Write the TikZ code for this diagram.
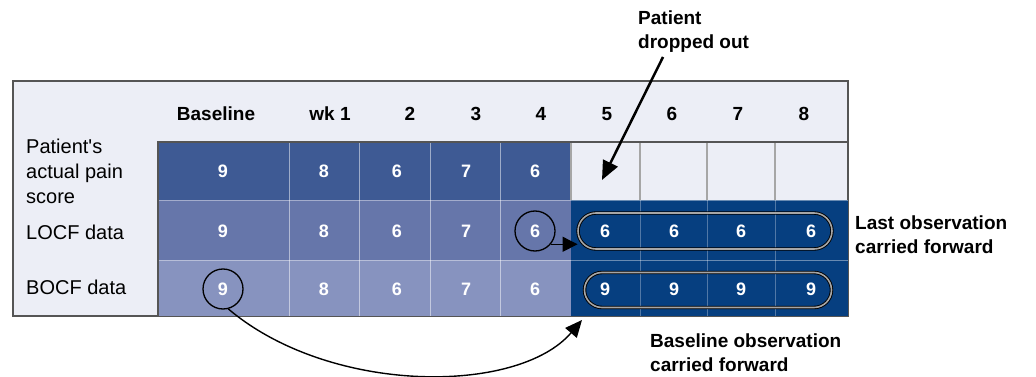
\documentclass[tikz,border=0pt]{standalone}
\usepackage{fontspec}
\setmainfont{Liberation Sans}
\newfontfamily\plainfont{Liberation Sans}
\usetikzlibrary{shapes,arrows.meta}

\definecolor{panel}{HTML}{ECEEF6}
\definecolor{edge}{HTML}{555555}
\definecolor{rowone}{HTML}{3E5A94}
\definecolor{rowtwo}{HTML}{6676AA}
\definecolor{rowthree}{HTML}{8793BF}
\definecolor{navy}{HTML}{063F80}

\begin{document}
\begin{tikzpicture}[x=1pt,y=-1pt,
  num/.style={text=white,font=\bfseries\fontsize{18}{18}\selectfont},
  hdr/.style={font=\bfseries\fontsize{19}{19}\selectfont},
  lab/.style={anchor=west,align=left,inner sep=0pt,font=\plainfont\fontsize{20}{25}\selectfont},
  note/.style={anchor=west,align=left,inner sep=0pt,font=\bfseries\fontsize{19}{24}\selectfont},
  ring/.style={circle,minimum size=40pt,draw=black,line width=1.3pt},
  run/.style={rounded rectangle,draw=black,double=gray!70,double distance=1.6pt,line width=0.9pt,inner sep=0pt},
  tip/.style={-{Triangle[length=19pt,width=16pt]}}]
  \useasboundingbox (0,0) rectangle (1036,377);

  % panel and cells
  \draw[fill=panel,draw=edge,line width=1.5pt] (13,81) rectangle (848,316);
  \fill[rowone] (158,142) rectangle (571,200);
  \fill[rowtwo] (158,200) rectangle (571,260);
  \fill[rowthree] (158,260) rectangle (571,316);
  \fill[navy] (571,200) rectangle (848,316);

  % grid
  \draw[white,opacity=0.5] (289,142) -- (289,316);
  \draw[white,opacity=0.5] (359,142) -- (359,316);
  \draw[white,opacity=0.5] (430,142) -- (430,316);
  \draw[white,opacity=0.5] (500,142) -- (500,316);
  \draw[white,opacity=0.4] (158,200) -- (848,200);
  \draw[white,opacity=0.4] (158,260) -- (848,260);
  \draw[gray!70,line width=1.5pt] (571,142) -- (571,200);
  \draw[gray!70,line width=1.5pt] (640,142) -- (640,200);
  \draw[gray!70,line width=1.5pt] (707,142) -- (707,200);
  \draw[gray!70,line width=1.5pt] (775,142) -- (775,200);
  \draw[white,opacity=0.3] (640,200) -- (640,316);
  \draw[white,opacity=0.3] (707,200) -- (707,316);
  \draw[white,opacity=0.3] (775,200) -- (775,316);
  \draw[edge,line width=1.2pt] (158,316) -- (158,142) -- (848,142);

  % headers
  \node[hdr] (h0) at (216,114) {Baseline};
  \node[hdr] (h1) at (330,114) {wk 1};
  \node[hdr] (h2) at (410,114) {2};
  \node[hdr] (h3) at (476,114) {3};
  \node[hdr] (h4) at (541,114) {4};
  \node[hdr] (h5) at (607,114) {5};
  \node[hdr] (h6) at (672,114) {6};
  \node[hdr] (h7) at (738,114) {7};
  \node[hdr] (h8) at (804,114) {8};

  % row labels
  \node[lab] (pain) at (26,171) {Patient's\\actual pain\\score};
  \node[lab] (locf) at (26,232) {LOCF data};
  \node[lab] (bocf) at (26,287) {BOCF data};

  % actual scores
  \node[num] (a0) at (223,171) {9};
  \node[num] (a1) at (324,171) {8};
  \node[num] (a2) at (397,171) {6};
  \node[num] (a3) at (466,171) {7};
  \node[num] (a4) at (535,171) {6};

  % LOCF
  \node[num] (l0) at (223,231) {9};
  \node[num] (l1) at (324,231) {8};
  \node[num] (l2) at (397,231) {6};
  \node[num] (l3) at (466,231) {7};
  \node[num,ring] (l4) at (535,231) {6};
  \node[run,minimum width=254pt,minimum height=36pt] (lrun) at (705,231) {};
  \node[num] (l5) at (605,231) {6};
  \node[num] (l6) at (674,231) {6};
  \node[num] (l7) at (741,231) {6};
  \node[num] (l8) at (811,231) {6};

  % BOCF
  \node[num,ring] (b0) at (223,289) {9};
  \node[num] (b1) at (324,289) {8};
  \node[num] (b2) at (397,289) {6};
  \node[num] (b3) at (466,289) {7};
  \node[num] (b4) at (535,289) {6};
  \node[run,minimum width=247pt,minimum height=35pt] (brun) at (708,290) {};
  \node[num] (b5) at (605,289) {9};
  \node[num] (b6) at (674,289) {9};
  \node[num] (b7) at (741,289) {9};
  \node[num] (b8) at (811,289) {9};

  % notes and arrows
  \node[note] (drop) at (638,32) {Patient\\dropped out};
  \node[note] (lnote) at (855,235) {Last observation\\carried forward};
  \node[note] (bnote) at (650,353) {Baseline observation\\carried forward};

  \coordinate (dropfoot) at (663,57);
  \coordinate (gone) at (602,180);
  \coordinate (bend) at (582,320);

  \draw[tip,line width=2.5pt] (dropfoot) -- (gone);
  \draw[-{Triangle[length=15pt,width=15pt]},line width=1.3pt] (l4.-40) -- (l4.-40 -| lrun.west);
  \draw[-{Triangle[length=17pt,width=15pt]},line width=1.4pt] (b0.-75) .. controls (330,395) and (518,395) .. (bend);

\end{tikzpicture}
\end{document}
